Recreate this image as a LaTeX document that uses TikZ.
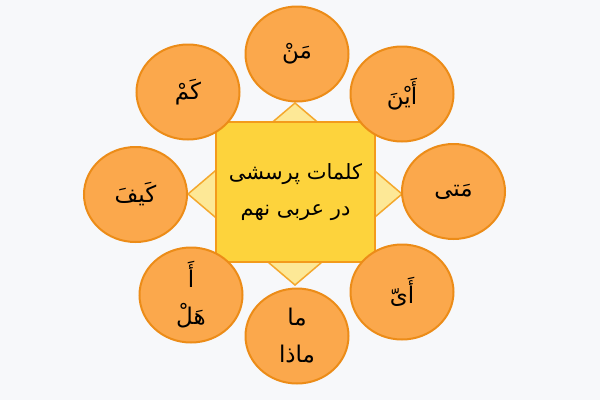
\documentclass[tikz,border=0pt]{standalone}
\usepackage{fontspec}
\newfontfamily\arabicfont[Script=Arabic]{DejaVu Sans}
\TeXXeTstate=1
\usetikzlibrary{shapes.geometric}
\definecolor{bg}{RGB}{247,248,250}
\definecolor{circfill}{RGB}{251,168,76}
\definecolor{circline}{RGB}{236,140,24}
\definecolor{sqfill}{RGB}{253,211,60}
\definecolor{sqline}{RGB}{243,155,28}
\definecolor{dmfill}{RGB}{253,232,150}
\definecolor{dmline}{RGB}{244,168,45}
\tikzset{
  wordnode/.style={ellipse, draw=circline, fill=circfill, line width=2pt,
    minimum width=103pt, minimum height=95pt, inner sep=0pt, align=center,
    font=\arabicfont\fontsize{23}{37}\selectfont},
  centerbox/.style={rectangle, draw=sqline, fill=sqfill, line width=2pt,
    minimum width=159pt, minimum height=140pt, inner sep=0pt, align=center,
    font=\arabicfont\fontsize{21}{36}\selectfont},
  diamfill/.style={draw=dmline, fill=dmfill, line width=1.5pt, line join=miter}
}
\begin{document}
\begin{tikzpicture}[x=1pt,y=-1pt]
\fill[bg] (0,0) rectangle (600,400);
\useasboundingbox (0,0) rectangle (600,400);
\coordinate (dt) at (295,103);
\coordinate (dr) at (402,194);
\coordinate (db) at (295,285);
\coordinate (dl) at (188,194);
\draw[diamfill] (dt) -- (dr) -- (db) -- (dl) -- cycle;
\node[centerbox] (c) at (295.5,192) {\beginR کلمات پرسشی\endR\\\beginR در عربی نهم\endR};
\node[wordnode] (man) at (297,54) {\beginR مَنْ\endR};
\node[wordnode] (kam) at (188,92) {\beginR كَمْ\endR};
\node[wordnode] (ayna) at (402,94) {\beginR أَيْنَ\endR};
\node[wordnode] (kayfa) at (135.5,194.5) {\beginR كَيفَ\endR};
\node[wordnode] (mata) at (453.5,191.5) {\beginR مَتى\endR};
\node[wordnode] (hal) at (191,295) {\beginR أَ\endR\\\beginR هَلْ\endR};
\node[wordnode] (ma) at (297,336) {\beginR ما\endR\\\beginR ماذا\endR};
\node[wordnode] (ayy) at (402,292) {\beginR أَیّ\endR};
\end{tikzpicture}
\end{document}
